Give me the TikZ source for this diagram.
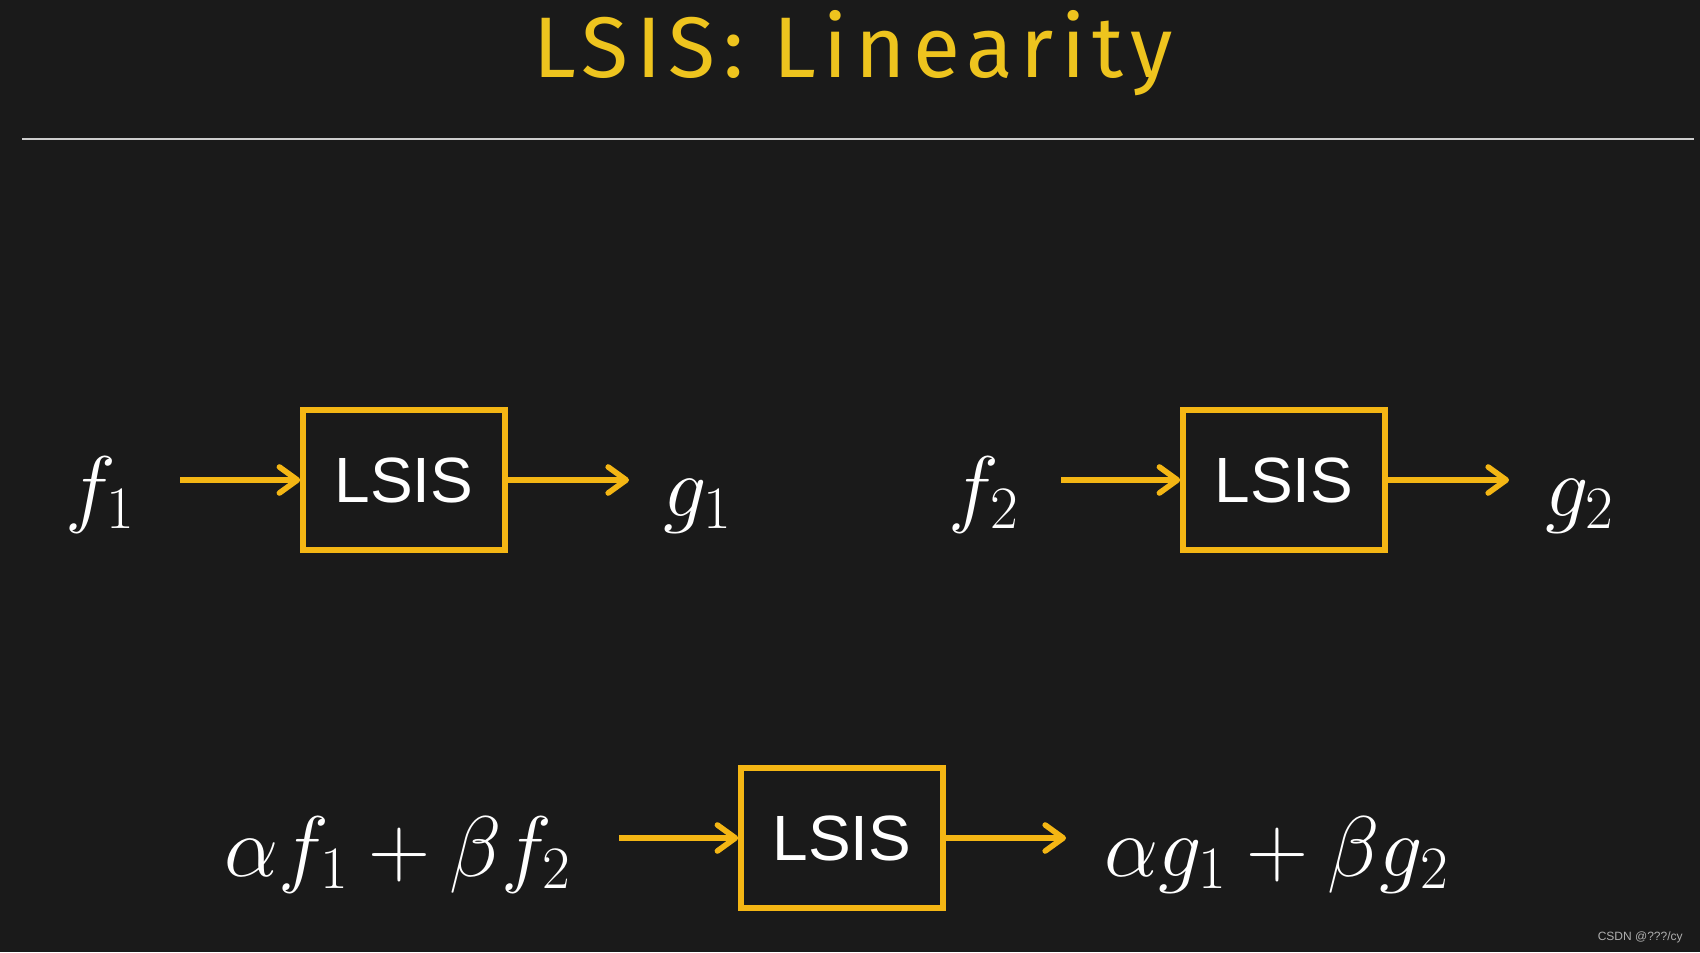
\RequirePackage{fix-cm}
\documentclass[tikz,border=0pt]{standalone}
\usepackage[no-math]{fontspec}
\setmainfont{Liberation Sans}
\newfontfamily\titolofont[LetterSpace=8.5]{Fira Sans}
\usepackage{amsmath}
\usetikzlibrary{arrows.meta, positioning}
\definecolor{sfondo}{RGB}{26,26,26}
\definecolor{giallo}{RGB}{238,196,30}
\definecolor{arancio}{RGB}{244,182,20}
\definecolor{linea}{RGB}{205,205,205}
\definecolor{grigio}{RGB}{175,175,175}

\begin{document}
\begin{tikzpicture}[x = 0.5pt, y = -0.5pt,
    blocco/.style = {draw = arancio, line width = 2.8pt, minimum width = 101pt, minimum height = 70pt, text = white, font = \fontsize{32}{36}\selectfont},
    freccia/.style = {draw = arancio, line width = 2.8pt, -{Straight Barb[length = 9pt, width = 13pt, round]}},
    segnale/.style = {text = white, font = \fontsize{43}{48}\selectfont, inner sep = 0pt}]
    % Sfondo
    \fill[sfondo] (0,0) rectangle (1700,952);
    \useasboundingbox (0,0) rectangle (1700,952);
    % Titolo
    \node[anchor = base, text = giallo, font = \titolofont\fontsize{43}{48}\selectfont] (titolo) at (853,78) {LSIS: Linearity};
    \coordinate (lineaA) at (22,139);
    \coordinate (lineaB) at (1694,139);
    \draw[linea, line width = 1.4pt] (lineaA) -- (lineaB);
    % Blocchi
    \node[blocco] (b1) at (404,480) {LSIS};
    \node[blocco] (b2) at (1284,480) {LSIS};
    \node[blocco] (b3) at (842,838) {LSIS};
    % Segnali
    \node[segnale, anchor = base east] (f1) at (136,516) {$f_1$};
    \node[segnale, anchor = base west] (g1) at (663,516) {$g_1$};
    \node[segnale, anchor = base east] (f2) at (1019,516) {$f_2$};
    \node[segnale, anchor = base west] (g2) at (1545,516) {$g_2$};
    \node[segnale, anchor = base east] (fs) at (572,876) {$\alpha f_1 + \beta f_2$};
    \node[segnale, anchor = base west] (gs) at (1104,876) {$\alpha g_1 + \beta g_2$};
    % Frecce
    \draw[freccia, shorten <= 22pt] (f1.east |- b1.west) -- (b1.west);
    \draw[freccia, shorten >= 17pt] (b1.east) -- (g1.west |- b1.east);
    \draw[freccia, shorten <= 21pt] (f2.east |- b2.west) -- (b2.west);
    \draw[freccia, shorten >= 18pt] (b2.east) -- (g2.west |- b2.east);
    \draw[freccia, shorten <= 23.5pt] (fs.east |- b3.west) -- (b3.west);
    \draw[freccia, shorten >= 19pt] (b3.east) -- (gs.west |- b3.east);
    % Marchio
    \node[anchor = base east, text = grigio, font = \fontsize{6}{8}\selectfont, inner sep = 0pt] (marchio) at (1683,940) {CSDN @???/cy};
\end{tikzpicture}
\end{document}
